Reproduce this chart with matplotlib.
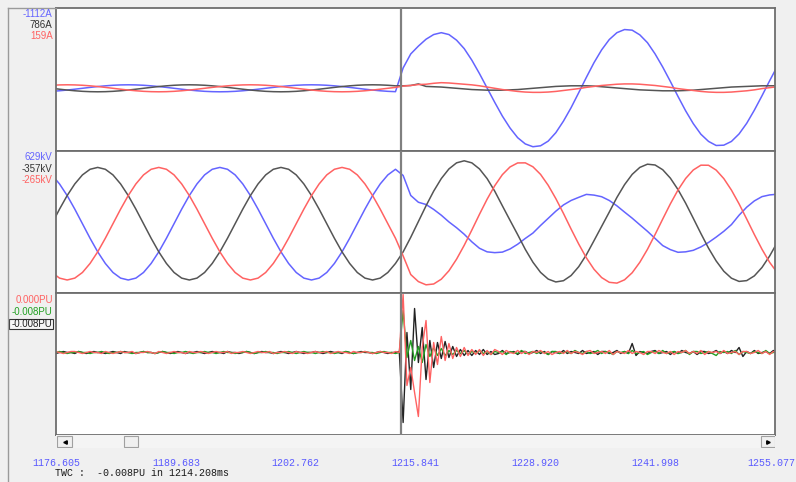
import matplotlib.pyplot as plt
import numpy as np
from matplotlib.patches import Rectangle
from matplotlib.lines import Line2D

# record window (ms), cursor position and time axis labels
t_start = 1176.605
t_end = 1255.077
cursor_t = 1214.208
tick_vals = [1176.605, 1189.683, 1202.762, 1215.841, 1228.920, 1241.998, 1255.077]
tick_labels = ["1176.605", "1189.683", "1202.762", "1215.841", "1228.920", "1241.998", "1255.077"]

# analog channels: 1200 Hz, PU channels: 2400 Hz, first sample at 1176.156 ms
first_sample = 1176.156
fs_analog = 1200.0
fs_pu = 2400.0

# currents (kA) -- blue, black, red phase
i_blue = [-.97, -.79, -.56, -.29, 0, .29, .56, .79, .97, 1.08,
          1.12, 1.08, .97, .79, .56, .29, 0, -.29, -.56, -.79,
          -.97, -1.08, -1.12, -1.08, -.97, -.79, -.56, -.29, 0, .29,
          .56, .79, .97, 1.08, 1.12, 1.08, .97, .79, .56, .29,
          0, -.29, -.56, -.79, -.97, -1.08,
          6.5, 11.0, 13.5, 15.7, 17.2, 17.8, 17.2, 15.4, 12.7, 9.0,
          4.7, 0.1, -4.5, -8.9, -12.7, -15.8, -17.8, -18.7, -18.4, -16.9,
          -14.2, -10.5, -6.2, -1.4, 3.5, 8.2, 12.3, 15.6, 17.8, 18.8,
          18.6, 17.1, 14.6, 11.0, 6.8, 2.2, -2.6, -7.2, -11.3, -14.7,
          -17.0, -18.3, -18.2, -17.0, -14.6, -11.2, -7.0, -2.4, 2.4, 7.0]
i_black = [0, -.29, -.56, -.79, -.97, -1.08, -1.12, -1.08, -.97, -.79,
           -.56, -.29, 0, .29, .56, .79, .97, 1.08, 1.12, 1.08,
           .97, .79, .56, .29, 0, -.29, -.56, -.79, -.97, -1.08,
           -1.12, -1.08, -.97, -.79, -.56, -.29, 0, .29, .56, .79,
           .97, 1.08, 1.12, 1.08, .97, .79,
           .8, .9, 1.4, .6, .5, .4, .2, 0, -.2, -.4,
           -.5, -.6, -.6, -.6, -.5, -.4, -.2, 0, .2, .4,
           .6, .7, .8, .8, .8, .7, .5, .3, .1, -.1,
           -.3, -.5, -.6, -.7, -.8, -.8, -.8, -.7, -.6, -.4,
           -.2, 0, .2, .4, .5, .6, .7, .8, .8, .8]
i_red = [.97, 1.08, 1.12, 1.08, .97, .79, .56, .29, 0, -.29,
         -.56, -.79, -.97, -1.08, -1.12, -1.08, -.97, -.79, -.56, -.29,
         0, .29, .56, .79, .97, 1.08, 1.12, 1.08, .97, .79,
         .56, .29, 0, -.29, -.56, -.79, -.97, -1.08, -1.12, -1.08,
         -.97, -.79, -.56, -.29, 0, .29,
         .7, .9, 1.2, 1.3, 1.6, 1.8, 1.7, 1.5, 1.3, 1.1,
         .8, .4, 0, -.4, -.7, -1.0, -1.2, -1.3, -1.3, -1.2,
         -1.0, -.7, -.4, -.1, .3, .6, .9, 1.1, 1.3, 1.4,
         1.4, 1.3, 1.1, .9, .6, .3, -.1, -.4, -.7, -1.0,
         -1.2, -1.3, -1.3, -1.2, -1.0, -.8, -.5, -.1, .2, .5]

# voltages (kV)
v_blue = [546, 445, 315, 163, 0, -163, -315, -445, -546, -609,
          -630, -609, -546, -445, -315, -163, 0, 163, 315, 445,
          546, 609, 630, 609, 546, 445, 315, 163, 0, -163,
          -315, -445, -546, -609, -630, -609, -546, -445, -315, -163,
          0, 163, 315, 445, 546, 609,
          540, 316, 240, 215, 160, 95, 20, -45, -118, -203,
          -275, -315, -324, -318, -283, -230, -165, -105, -20, 60,
          140, 210, 260, 295, 328, 320, 302, 260, 200, 130,
          62, -12, -85, -165, -245, -290, -320, -315, -298, -260,
          -210, -150, -85, -10, 95, 185, 255, 303, 322, 330]
v_black = [0, 163, 315, 445, 546, 609, 630, 609, 546, 445,
           315, 163, 0, -163, -315, -445, -546, -609, -630, -609,
           -546, -445, -315, -163, 0, 163, 315, 445, 546, 609,
           630, 609, 546, 445, 315, 163, 0, -163, -315, -445,
           -546, -609, -630, -609, -546, -445,
           -316, -152, 24, 200, 364, 505, 613, 681, 704, 681,
           613, 505, 364, 200, 38, -122, -287, -431, -545, -620,
           -652, -638, -580, -481, -348, -190, -30, 130, 294, 437,
           552, 630, 666, 657, 604, 510, 382, 230, 61, -110,
           -274, -417, -532, -610, -646, -637, -584, -490, -362, -210]
v_red = [-546, -609, -630, -609, -546, -445, -315, -163, 0, 163,
         315, 445, 546, 609, 630, 609, 546, 445, 315, 163,
         0, -163, -315, -445, -546, -609, -630, -609, -546, -445,
         -315, -163, 0, 163, 315, 445, 546, 609, 630, 609,
         546, 445, 315, 163, 0, -163,
         -360, -569, -648, -684, -675, -621, -527, -397, -242, -71,
         105, 274, 425, 549, 635, 680, 681, 637, 552, 430,
         281, 115, -60, -228, -382, -510, -603, -656, -665, -628,
         -549, -432, -287, -121, 52, 222, 377, 506, 601, 655,
         654, 600, 505, 376, 222, 52, -121, -286, -432, -548]

# PU channels -- before fault, transient, tail
pu_red = [0, .01, 0, -.01, 0, .01, .01, 0, -.01, 0, .01, 0, 0, -.01, .01, 0, -.01, 0, .01, 0,
          0, .01, -.01, 0, 0, .01, 0, -.01, .01, 0, -.01, 0, .01, 0, 0, -.01, .01, 0, 0, .01,
          0, -.01, 0, .01, 0, 0, .01, -.01, 0, 0, .01, 0, -.01, 0, .01, 0, 0, .01, -.01, 0,
          0, .01, 0, -.01, .01, 0, 0, -.01, 0, .01, 0, 0, .01, -.01, 0, .01, 0, 0, -.01, .01,
          0, 0, .01, 0, -.01, 0, .01, 0, 0, -.01, .01, 0,
          .58, -.33, -.15, -.40, -.64, .05, .32, -.30, .10, -.12,
          .16, -.08, .09, -.06, .05, -.04, .05, -.03, .03, -.02, .03, -.03, .02, -.02, .03,
          .01, -.02, .02, 0, -.01, .02, -.01, .01, -.02, .01, 0, .02, -.01, .01, -.02, 0, .01, -.01, .02, -.01,
          .01, 0, -.02, .01, .02, -.01, 0, .01, -.01, .02, -.02, .01, 0, -.01, .02, -.01, .01, 0, -.02, .01,
          .01, -.01, .02, 0, -.01, .01, -.02, .01, 0, .02, -.01, .01, -.01, .02, -.02, .01, 0, .01, -.01, .02,
          -.01, 0, .01, -.02, .01, .01, -.01, 0, .02, -.01, .01, -.02, .01, 0]
pu_green = [0, 0, .01, 0, -.01, 0, 0, .01, 0, 0, -.01, 0, 0, .01, 0, -.01, 0, 0, .01, 0,
            0, -.01, 0, 0, .01, 0, 0, -.01, 0, .01, 0, 0, -.01, 0, 0, .01, 0, -.01, 0, 0,
            .01, 0, 0, -.01, 0, .01, 0, 0, -.01, 0, 0, .01, 0, -.01, 0, 0, .01, 0, 0, -.01,
            0, 0, .01, 0, -.01, 0, .01, 0, 0, -.01, 0, .01, 0, 0, -.01, 0, 0, .01, 0, -.01,
            0, 0, .01, 0, 0, -.01, 0, .01, 0, 0, -.01, 0,
            .42, -.05, .12, -.08, .06, -.10, .08, -.04, .05, -.03,
            .04, -.03, .02, -.02, .02, -.01, .02, -.02, .01, -.01, .02, -.01, .01, -.02, .01,
            0, .01, -.02, .01, 0, -.01, .02, -.01, 0, .01, -.01, .01, 0, -.02, .01, .01, -.01, 0, .01, -.01,
            .02, 0, -.01, .01, -.01, 0, .02, -.01, .01, 0, -.02, .01, 0, .01, -.01, .02, -.01, 0, .01, -.02,
            0, .01, -.01, .02, -.01, 0, .01, -.01, 0, .02, -.02, .01, .01, -.01, 0, .01, -.01, -.03, .01, 0,
            .01, -.01, .02, -.02, .01, 0, -.01, .01, 0, -.01, .02, -.01, 0, .01]
pu_black = [0, -.01, 0, .01, 0, 0, -.01, .01, 0, -.01, 0, .01, 0, 0, -.01, 0, .01, 0, -.01, .01,
            0, 0, -.01, 0, .01, 0, 0, -.01, 0, .01, 0, -.01, 0, .01, 0, -.01, 0, 0, .01, 0,
            -.01, 0, .01, 0, 0, -.01, .01, 0, 0, -.01, 0, .01, 0, -.01, 0, .01, 0, 0, -.01, 0,
            .01, 0, -.01, 0, .01, 0, -.01, 0, 0, .01, 0, -.01, 0, .01, 0, 0, -.01, .01, 0, -.01,
            0, .01, 0, 0, -.01, 0, .01, 0, -.01, 0, 0, .01,
            -.70, .20, -.37, .44, -.10, .25, -.27, .12, -.15, .10,
            -.06, .11, -.05, .06, -.04, .03, -.03, .02, -.03, .02, -.02, .03, -.02, .01, -.02,
            -.01, .02, -.01, 0, .01, -.02, .01, .01, -.01, 0, .02, -.01, .01, -.02, .01, 0, -.01, .02, -.01, .01,
            0, -.01, .02, -.01, 0, .01, -.02, .01, .01, -.01, 0, .02, -.01, .01, -.01, .09, -.03, .01, 0, -.01,
            .01, .02, -.01, 0, .01, -.02, .01, -.01, .02, 0, -.01, .01, -.02, .01, .01, -.01, 0, .02, -.01, .01,
            -.01, .02, 0, .05, -.04, .01, -.01, .02, -.01, 0, .01, -.01, .02, -.01]

# values at cursor shown in the left strip
cur_labels = ["-1112A", "786A", "159A"]
volt_labels = ["629kV", "-357kV", "-265kV"]
pu_labels = ["0.000PU", "-0.008PU", "-0.008PU"]

BLUE = '#6464ff'
GREY = '#555555'
RED = '#ff6262'
GREEN = '#22a022'

W, H = 796, 482


def box(x0, y0, x1, y1):
    # pixel box (top-left origin) -> figure rect
    return [x0 / W, 1 - y1 / H, (x1 - x0) / W, (y1 - y0) / H]


def fy(y):
    return 1 - y / H


t_an = first_sample + np.arange(len(v_blue)) * 1000.0 / fs_analog
t_pu = first_sample + np.arange(len(pu_red)) * 1000.0 / fs_pu

fig = plt.figure(figsize=(W / 100, H / 100), dpi=100, facecolor='#f0f0f0')

ax_i = fig.add_axes(box(56, 8.3, 775, 150.7))
ax_v = fig.add_axes(box(56, 150.7, 775, 293.3))
ax_p = fig.add_axes(box(56, 293.3, 775, 435))

ax_i.plot(t_an, i_blue, color=BLUE, lw=1.1)
ax_i.plot(t_an, i_black, color=GREY, lw=1.1)
ax_i.plot(t_an, i_red, color=RED, lw=1.1)
ax_i.set_ylim(-19.97, 25.6)

ax_v.plot(t_an, v_blue, color=BLUE, lw=1.1)
ax_v.plot(t_an, v_black, color=GREY, lw=1.1)
ax_v.plot(t_an, v_red, color=RED, lw=1.1)
ax_v.set_ylim(-779, 817)

ax_p.plot(t_pu, pu_black, color='#222222', lw=1.0)
ax_p.plot(t_pu, pu_green, color=GREEN, lw=1.0)
ax_p.plot(t_pu, pu_red, color=RED, lw=1.0)
ax_p.set_ylim(-0.825, 0.592)

for ax in (ax_i, ax_v, ax_p):
    ax.set_facecolor('white')
    ax.set_xlim(t_start, t_end)
    ax.set_xticks([])
    ax.set_yticks([])
    ax.axvline(cursor_t, color='#808080', lw=1.6, zorder=5)
    for s in ax.spines.values():
        s.set_color('#6e6e6e')
        s.set_linewidth(1.3)

# time axis labels under the scroll bar (last one nudged in so it is not cut)
for i, (tv, tl) in enumerate(zip(tick_vals, tick_labels)):
    dx = -3 if i == len(tick_vals) - 1 else 0
    ax_p.annotate(tl, xy=(tv, 0), xycoords=('data', 'axes fraction'),
                  xytext=(dx, -20.2), textcoords='offset points',
                  ha='center', va='center', family='Liberation Mono',
                  fontsize=7.2, color='#5a5aff', annotation_clip=False)

# scroll bar
ax_sb = fig.add_axes(box(56, 435, 775, 448))
ax_sb.set_facecolor('#f4f4f4')
ax_sb.set_xlim(0, 1)
ax_sb.set_ylim(0, 1)
ax_sb.set_xticks([])
ax_sb.set_yticks([])
for s in ax_sb.spines.values():
    s.set_visible(False)
for x0, x1 in [(57, 72), (124, 138), (761, 775)]:
    ax_sb.add_patch(Rectangle(((x0 - 56) / 719, 0.08), (x1 - x0) / 719, 0.84,
                              facecolor='#f0f0f0', edgecolor='#a0a0a0', lw=0.8))
ax_sb.plot([(64.5 - 56) / 719], [0.5], marker='<', ms=2.5, color='black')
ax_sb.plot([(768 - 56) / 719], [0.5], marker='>', ms=2.5, color='black')

# outer border of the viewer
fig.add_artist(Line2D([8 / W, 8 / W], [fy(7.5), 0], color='#9a9a9a', lw=1))
fig.add_artist(Line2D([8 / W, 56 / W], [fy(7.5), fy(7.5)], color='#9a9a9a', lw=1))

# cursor values
lab_font = dict(family='Liberation Sans', fontsize=7, ha='right', va='center')
for s, y, c in zip(cur_labels, [14, 25, 35.7], [BLUE, '#333333', RED]):
    fig.text(52.7 / W, fy(y), s, color=c, **lab_font)
for s, y, c in zip(volt_labels, [157.3, 169, 180], [BLUE, '#333333', RED]):
    fig.text(52.7 / W, fy(y), s, color=c, **lab_font)
fig.add_artist(Rectangle((8.8 / W, fy(328.7)), (53.3 - 8.8) / W, 9.4 / H,
                         transform=fig.transFigure, facecolor='#f7f7f7',
                         edgecolor='#333333', lw=0.8))
for s, y, c in zip(pu_labels, [300, 312.3, 323.7], [RED, GREEN, '#222222']):
    fig.text(52.7 / W, fy(y), s, color=c, **lab_font)

fig.text(55 / W, fy(473.5), "TWC :  -0.008PU in 1214.208ms", family='Liberation Mono',
         fontsize=7.2, va='center', color='#1a1a1a')

fig.savefig('out.png', dpi=100, facecolor=fig.get_facecolor())
